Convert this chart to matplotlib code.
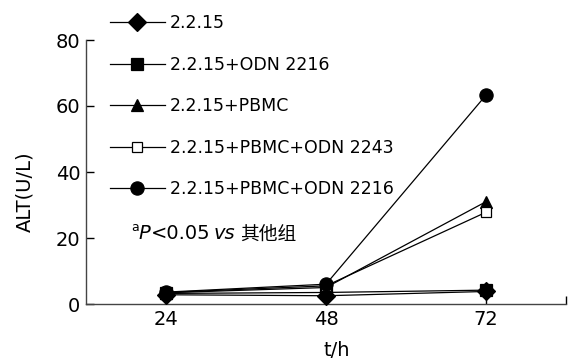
import matplotlib
matplotlib.use("Agg")
import matplotlib.pyplot as plt

plt.rcParams['font.family'] = ['DejaVu Sans', 'Noto Sans CJK SC']

hours = [24, 48, 72]
labels = ["2.2.15", "2.2.15+ODN 2216", "2.2.15+PBMC", "2.2.15+PBMC+ODN 2243", "2.2.15+PBMC+ODN 2216"]
v_2215 = [2.8, 2.5, 3.8]
v_odn2216 = [3.2, 3.5, 4.2]
v_pbmc = [3.4, 5.0, 31.0]
v_pbmc2243 = [3.5, 5.5, 27.8]
v_pbmc2216 = [3.6, 6.0, 63.3]
yticks = [0, 20, 40, 60, 80]
xticks = [24, 48, 72]

series = [v_2215, v_odn2216, v_pbmc, v_pbmc2243, v_pbmc2216]
markers = ['D', 's', '^', 's', 'o']
msizes = [9, 8, 9, 7.5, 9.5]
fills = ['black', 'black', 'black', 'white', 'black']

W, H = 569, 358
fig = plt.figure(figsize=(W/100, H/100), dpi=100)
ax = fig.add_axes([86/W, 1-304/H, (566-86)/W, (304-40)/H])

handles = []
for vals, m, ms, fc, lab in zip(series, markers, msizes, fills, labels):
    h, = ax.plot(hours, vals, color='black', lw=0.9, marker=m, ms=ms,
                 markerfacecolor=fc, markeredgecolor='black', markeredgewidth=0.9,
                 label=lab, clip_on=False, zorder=3)
    handles.append(h)

ax.set_xlim(12, 84)
ax.set_ylim(0, 80)
ax.set_yticks(yticks)
ax.set_xticks(xticks + [84])
ax.set_xticklabels([str(x) for x in xticks] + [''])
ax.tick_params(direction='in', length=6, width=1, labelsize=14, pad=4)
for s in ['top', 'right']:
    ax.spines[s].set_visible(False)
for s in ['left', 'bottom']:
    ax.spines[s].set_linewidth(1)
    ax.spines[s].set_color('#444444')

fig.text(25/W, 1-192/H, 'ALT(U/L)', fontsize=14, rotation=90, ha='center', va='center')
fig.text(337/W, 1-350/H, 't/h', fontsize=14, ha='center', va='center')

leg = fig.legend(handles=handles, loc='upper left', bbox_to_anchor=(110/W, 1-14/H),
                 frameon=False, fontsize=12.5, handlelength=3.15, labelspacing=1.36,
                 handletextpad=0.3, borderpad=0, borderaxespad=0)

fig.text(131/W, 1-231/H, 'a', fontsize=9, va='baseline')
fig.text(138/W, 1-239/H, 'P', fontsize=14, style='italic', va='baseline')
fig.text(151/W, 1-239/H, '<0.05', fontsize=14, va='baseline')
fig.text(214/W, 1-239/H, 'vs', fontsize=14, style='italic', va='baseline')
fig.text(240/W, 1-240/H, '其他组', fontsize=13.5, va='baseline',
         family=['Noto Sans CJK SC', 'DejaVu Sans'])

fig.savefig('out.png', dpi=100)
